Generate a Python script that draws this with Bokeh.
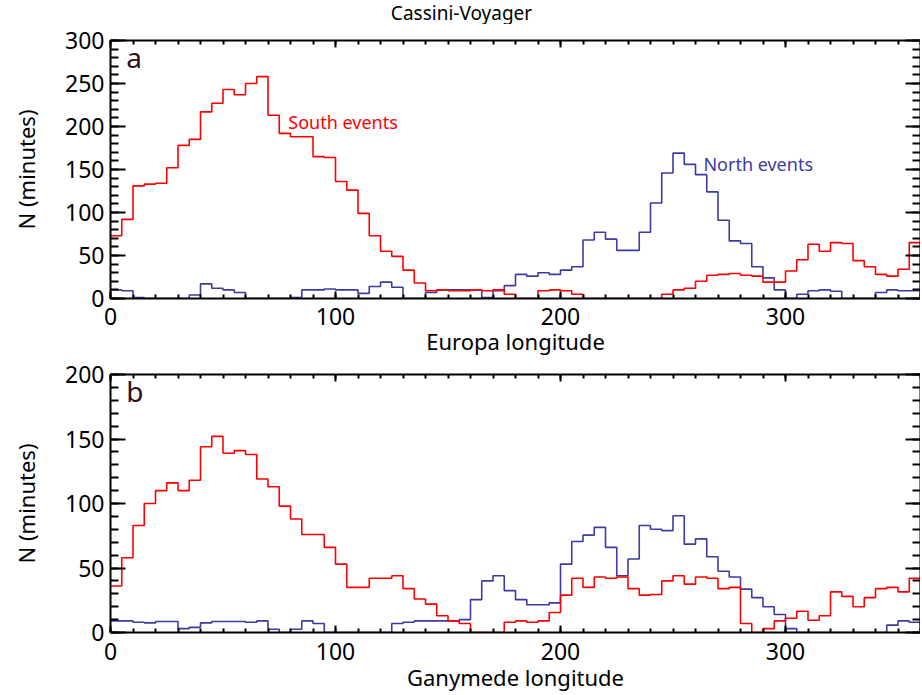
import numpy as np
from bokeh.plotting import figure
from bokeh.layouts import column
from bokeh.models import Range1d, LinearAxis, SingleIntervalTicker, Label
from bokeh.core.properties import value
from bokeh.embed import file_html
from bokeh.resources import INLINE

# ---------------- data ----------------
BIN_WIDTH = 5
bin_left = list(range(0, 360, BIN_WIDTH))  # 72 bins of 5 degrees longitude

europa_south = [73, 92, 131, 133, 134, 152, 178, 185, 217, 227, 243, 237,
                250, 258, 213, 192, 188, 188, 165, 164, 136, 126, 99, 73,
                55, 49, 33, 18, 9, 10, 9, 9, 10, 9, 10, 5,
                0, 0, 9, 10, 9, 5, 0, 0, 0, 0, 0, 0,
                0, 5, 10, 12, 20, 27, 28, 29, 27, 26, 19, 19,
                32, 45, 63, 55, 65, 64, 44, 37, 28, 26, 34, 65]

europa_north = [10, 9, 1, 0, 0, 0, 0, 4, 17, 12, 10, 7,
                0, 0, 0, 0, 1, 10, 10, 11, 10, 10, 6, 14,
                19, 13, 0, 0, 7, 10, 10, 10, 10, 1, 9, 15,
                28, 26, 30, 28, 33, 37, 68, 77, 69, 56, 56, 77,
                111, 146, 169, 156, 144, 124, 91, 67, 64, 37, 24, 10,
                0, 5, 9, 10, 8.5, 0, 0, 0, 7, 10, 9, 9]

ganymede_south = [36, 58, 83, 100, 110, 116, 110, 118, 144, 152, 139, 141,
                  138, 119, 113, 98, 88, 76, 76, 66, 53, 35, 35, 42,
                  42, 44, 34, 26, 22, 13, 9, 7, 0, 0, 0, 8,
                  9, 8, 9, 15.5, 29, 42, 35, 43, 42, 43, 34, 29,
                  29.5, 40, 44, 37.5, 43, 42, 34, 35, 7, 0, 3, 9,
                  11, 16.5, 9.5, 13, 31.5, 28, 20, 27, 34, 35, 31.5, 42]

ganymede_north = [9, 9, 8, 7.5, 8.5, 8.5, 3, 4, 7.5, 8.5, 8.5, 8.5,
                  8, 9, 2.5, 0, 2.5, 9, 7, 0, 0, 0, 0, 0,
                  0, 7, 8, 9, 9, 9, 9, 10, 25.5, 40, 44, 32.5,
                  25.5, 21.5, 21.5, 23, 53, 70.5, 75.5, 81.5, 66, 44, 57, 83,
                  80, 79, 90.5, 68.5, 72.6, 58.7, 47.5, 43, 33.6, 27, 20, 14,
                  3, 0, 0, 0, 0, 0, 0, 0, 0, 5.7, 9, 8]

TITLE = "Cassini-Voyager"
FONT = "Noto Sans"
RED = "#ff0000"
BLUE = "#3b3ba3"
DARK = "#301018"
WIDTH = 920


def steps(vals):
    # histogram outline: one step per bin, closed down to the baseline at the right edge
    xs = bin_left + [bin_left[-1] + BIN_WIDTH, bin_left[-1] + BIN_WIDTH]
    ys = list(vals) + [vals[-1], 0]
    return xs, ys


def style_axis(ax, maj_in, min_in, labels=True):
    ax.axis_line_width = 2
    ax.axis_line_color = "black"
    ax.major_tick_line_width = 2
    ax.minor_tick_line_width = 2
    ax.major_tick_in = maj_in
    ax.major_tick_out = 0
    ax.minor_tick_in = min_in
    ax.minor_tick_out = 0
    ax.major_label_text_font = FONT
    ax.axis_label_text_font = FONT
    ax.axis_label_text_font_style = "normal"
    ax.major_label_text_color = "black"
    ax.axis_label_text_color = "black"
    ax.major_label_text_font_size = "23px"
    ax.axis_label_text_font_size = "22px"
    if not labels:
        ax.major_label_text_font_size = "0px"
        ax.major_label_text_color = None
        ax.major_label_standoff = 0


def make_panel(ymax, south, north, xlabel, letter, height, top, bottom,
               xstand, xlabstand):
    p = figure(width=WIDTH, height=height, output_backend="svg", toolbar_location=None,
               x_range=Range1d(0, 360), y_range=Range1d(0, ymax),
               min_border_left=110, min_border_right=0,
               min_border_top=top, min_border_bottom=bottom)
    p.grid.visible = False
    p.outline_line_color = None
    p.xaxis.ticker = SingleIntervalTicker(interval=100, num_minor_ticks=10)
    p.yaxis.ticker = SingleIntervalTicker(interval=50, num_minor_ticks=5)
    style_axis(p.xaxis[0], 7, 4)
    style_axis(p.yaxis[0], 15, 8)
    p.xaxis.axis_label = xlabel
    p.yaxis.axis_label = "N (minutes)"
    p.xaxis.major_label_standoff = xstand
    p.xaxis.axis_label_standoff = xlabstand
    p.yaxis.major_label_standoff = 6
    p.yaxis.axis_label_standoff = 21

    ra = LinearAxis(ticker=SingleIntervalTicker(interval=50, num_minor_ticks=5))
    style_axis(ra, 15, 8, labels=False)
    p.add_layout(ra, "right")
    ta = LinearAxis(ticker=SingleIntervalTicker(interval=100, num_minor_ticks=10))
    style_axis(ta, 7, 4, labels=False)
    p.add_layout(ta, "above")

    xs, ys = steps(north)
    p.step(xs, ys, mode="after", line_color=BLUE, line_width=1.6)
    xs, ys = steps(south)
    p.step(xs, ys, mode="after", line_color=RED, line_width=1.6)

    p.add_layout(Label(x=7, y=ymax * 0.935, text=letter, text_font=FONT, text_font_size="28px",
                       text_color=DARK, text_baseline="middle"))
    return p


# title strip: a small axis-less figure (its frame is aligned with the panels below)
pt = figure(width=WIDTH, height=24, output_backend="svg", toolbar_location=None,
            x_range=Range1d(0, 360), y_range=Range1d(0, 1),
            x_axis_type=None, y_axis_type=None, min_border=0,
            min_border_left=110, min_border_right=0)
pt.grid.visible = False
pt.outline_line_color = None
pt.text(x=[156], y=[0.5], text=[TITLE], text_font=value(FONT),
        text_font_size="19px", text_color="black", text_align="center",
        text_baseline="middle")

pa = make_panel(300, europa_south, europa_north, "Europa longitude", "a", 334, 16, 60,
                9, -2)
pa.add_layout(Label(x=79, y=205, text="South events", text_font=FONT, text_font_size="18px",
                    text_color=RED, text_baseline="middle"))
pa.add_layout(Label(x=263.5, y=156, text="North events", text_font=FONT, text_font_size="18px",
                    text_color=BLUE, text_baseline="middle"))

pb = make_panel(200, ganymede_south, ganymede_north, "Ganymede longitude", "b", 336, 16, 62,
                10, -1)

layout = column(pt, pa, pb, spacing=0)
open("out.html", "w").write(file_html(layout, INLINE))
